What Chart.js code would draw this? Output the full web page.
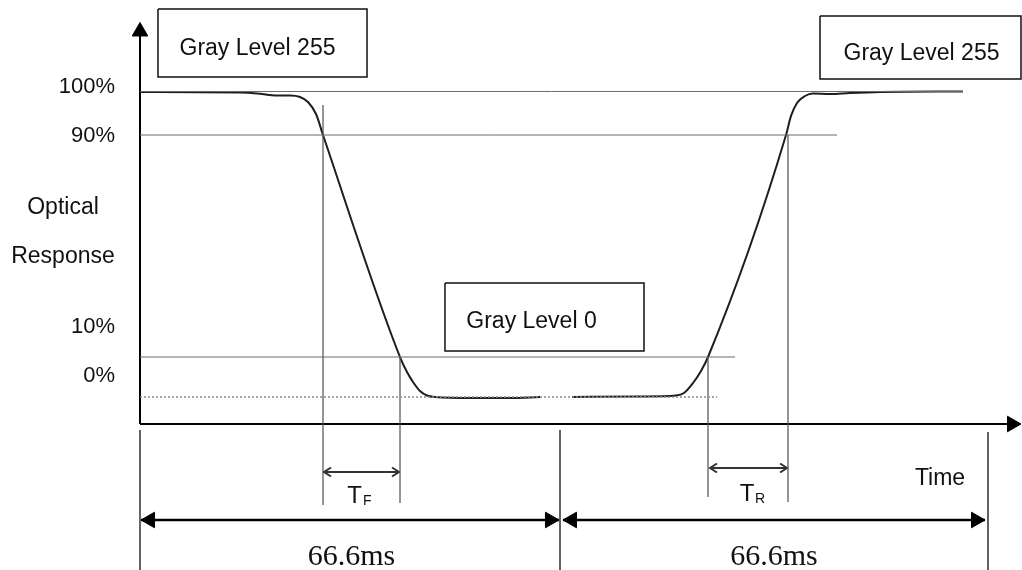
<!DOCTYPE html>
<html>
<head>
<meta charset="utf-8">
<script src="https://cdn.jsdelivr.net/npm/chart.js@4.4.1/dist/chart.umd.min.js"></script>
<style>
  html, body { margin: 0; padding: 0; background: #fff; }
  #wrap { width: 1022px; height: 570px; }
</style>
</head>
<body>
<div id="wrap"><canvas id="respuesta_optica"></canvas></div>
<script>
// curva de respuesta óptica (tiempo en ms, respuesta en % del esquema)
const curveTime = [0, 15.86, 19.35, 21.41, 23.79, 25.37, 26.64, 27.91, 29.02, 41.23, 42.34, 43.29, 44.4, 45.51, 46.78, 52.33, 58.67, 63.43,
  66.0,
  68.5, 79.29, 85.0, 86.26, 87.69, 88.96, 90.07, 102.44, 103.23, 104.18, 105.45, 106.72, 109.41, 112.59, 117.34, 130.5];
const curveResp = [99.8, 99.67, 99.18, 98.69, 98.69, 98.2, 96.56, 92.64, 85.76, 13.09, 8.18, 4.91, 1.96, 0.49, 0, -0.33, -0.33, 0,
  null,
  0, 0.16, 0.49, 1.31, 4.58, 8.51, 13.09, 85.76, 92.0, 96.24, 98.53, 99.35, 99.18, 99.51, 99.84, 100];

// niveles de referencia
const levelLabels = ["100%", "90%", "10%", "0%"];
const levelValues = [100, 85.76, 13.09, 0];
const levelEnds = [130.5, 110.52, 94.35, 91.5];
const levelLabelY = [99.41, 83.57, 20.85, 5.01];

// cruces 90% / 10%
const fallTimes = [29.02, 41.23];
const riseTimes = [90.07, 102.75];

// marcos de 66.6 ms
const frameEdges = [0, 66.6, 134.47];
const frameLabel = "66.6ms";
const frameLabelX = [33.54, 100.53];

const boxTexts = ["Gray Level 255", "Gray Level 255", "Gray Level 0"];

function polylines(list) {
  const pts = [];
  list.forEach((pl, i) => {
    if (i) pts.push({ x: pl[0], y: null });
    for (let j = 0; j < pl.length; j += 2) pts.push({ x: pl[j], y: pl[j + 1] });
  });
  return pts;
}

function lineSet(list, color, width, dash) {
  return {
    data: polylines(list),
    showLine: true,
    borderColor: color,
    borderWidth: width,
    borderDash: dash || [],
    pointRadius: 0,
    spanGaps: false,
    tension: 0,
    clip: false,
  };
}

const yAxisTop = 119.15, xAxisY = -8.84, xAxisEnd = 137.96;
const arrowY = -40.26, bottom = -57;

const textos = [
  { t: boxTexts[0], x: 18.63, y: 111.95, f: "23px 'Liberation Sans', Arial", a: "center" },
  { t: boxTexts[1], x: 123.92, y: 110.31, f: "23px 'Liberation Sans', Arial", a: "center" },
  { t: boxTexts[2], x: 62.08, y: 22.49, f: "23px 'Liberation Sans', Arial", a: "center" },
  { t: "Optical", x: -12.21, y: 59.9, f: "23px 'Liberation Sans', Arial", a: "center" },
  { t: "Response", x: -12.21, y: 43.86, f: "23px 'Liberation Sans', Arial", a: "center" },
  { t: "T", x: 34.01, y: -34.7, f: "24px 'Liberation Sans', Arial", a: "center" },
  { t: "F", x: 35.36, y: -35.35, f: "14px 'Liberation Sans', Arial", a: "left" },
  { t: "T", x: 96.25, y: -34.04, f: "24px 'Liberation Sans', Arial", a: "center" },
  { t: "R", x: 97.52, y: -34.7, f: "14px 'Liberation Sans', Arial", a: "left" },
  { t: "Time", x: 126.86, y: -28.81, f: "23px 'Liberation Sans', Arial", a: "center" },
];
levelLabels.forEach((l, i) => textos.push({ t: l, x: -3.96, y: levelLabelY[i], f: "22px 'Liberation Sans', Arial", a: "right" }));
frameLabelX.forEach(x => textos.push({ t: frameLabel, x: x, y: -54.99, f: "30px 'Liberation Serif', 'Times New Roman', serif", a: "center" }));

const textPlugin = {
  id: "textos",
  afterDatasetsDraw(chart) {
    const { ctx, scales } = chart;
    ctx.save();
    ctx.fillStyle = "#111";
    ctx.textBaseline = "alphabetic";
    textos.forEach(d => {
      ctx.font = d.f;
      ctx.textAlign = d.a;
      ctx.fillText(d.t, scales.x.getPixelForValue(d.x), scales.y.getPixelForValue(d.y));
    });
    ctx.restore();
  }
};

const ctx = document.getElementById("respuesta_optica").getContext("2d");

new Chart(ctx, {
  type: "scatter",
  data: {
    datasets: [
      // niveles 100 / 90 / 10 %
      lineSet(levelValues.slice(0, 3).map((v, i) => [0, v, levelEnds[i], v]), "#6a6a6a", 1),
      // nivel 0 % punteado
      lineSet([[0, levelValues[3], levelEnds[3], levelValues[3]]], "#8a8a8a", 1.5, [2, 2]),
      // verticales de los cruces
      lineSet([
        [fallTimes[0], 95.58, fallTimes[0], -35.35],
        [fallTimes[1], levelValues[2], fallTimes[1], -34.7],
        [riseTimes[0], levelValues[2], riseTimes[0], -32.73],
        [riseTimes[1], levelValues[1], riseTimes[1], -34.37],
      ], "#505050", 1.2),
      // verticales de los marcos
      lineSet([
        [frameEdges[0], -10.8, frameEdges[0], bottom],
        [frameEdges[1], -10.8, frameEdges[1], bottom],
        [frameEdges[2], -11.46, frameEdges[2], bottom],
      ], "#111", 1.3),
      // ejes
      lineSet([[0, xAxisY, 0, yAxisTop], [0, xAxisY, xAxisEnd, xAxisY]], "#000", 2),
      // flechas de 66.6 ms
      lineSet([[0.16, arrowY, 66.44, arrowY], [67.08, arrowY, 133.99, arrowY]], "#000", 2.5),
      // flechas TF y TR
      lineSet([
        [29.18, -24.55, 41.07, -24.55],
        [30.29, -23.08, 29.18, -24.55, 30.29, -26.02],
        [39.96, -23.08, 41.07, -24.55, 39.96, -26.02],
        [90.39, -23.24, 102.6, -23.24],
        [91.5, -21.77, 90.39, -23.24, 91.5, -24.71],
        [101.49, -21.77, 102.6, -23.24, 101.49, -24.71],
      ], "#333", 2),
      // cajas
      lineSet([
        [2.85, 127.0, 36.0, 127.0, 36.0, 104.75, 2.85, 104.75, 2.85, 127.0],
        [107.83, 124.71, 139.7, 124.71, 139.7, 104.09, 107.83, 104.09, 107.83, 124.71],
        [48.36, 37.32, 79.92, 37.32, 79.92, 15.06, 48.36, 15.06, 48.36, 37.32],
      ], "#111", 1.5),
      // curva
      {
        data: curveTime.map((t, i) => ({ x: t, y: curveResp[i] })),
        showLine: true,
        borderColor: "#1e1e1e",
        borderWidth: 2,
        pointRadius: 0,
        spanGaps: false,
        cubicInterpolationMode: "monotone",
        clip: false,
      },
      // puntas de flecha
      {
        data: [
          { x: 0, y: 119.64 },
          { x: 138.27, y: xAxisY },
          { x: 1.59, y: arrowY },
          { x: 65.01, y: arrowY },
          { x: 68.5, y: arrowY },
          { x: 132.57, y: arrowY },
        ],
        pointStyle: "triangle",
        pointRotation: [0, 90, 270, 90, 270, 90],
        pointRadius: 9,
        backgroundColor: "#000",
        borderColor: "#000",
        borderWidth: 1,
        showLine: false,
        clip: false,
      },
    ],
  },
  options: {
    responsive: true,
    maintainAspectRatio: false,
    animation: false,
    layout: { padding: 0, autoPadding: false },
    scales: {
      x: { type: "linear", display: false, min: -22.2, max: 139.86 },
      y: { type: "linear", display: false, min: -56.63, max: 129.95 },
    },
    plugins: {
      legend: { display: false },
      tooltip: { enabled: false },
    },
  },
  plugins: [textPlugin],
});
</script>
</body>
</html>
